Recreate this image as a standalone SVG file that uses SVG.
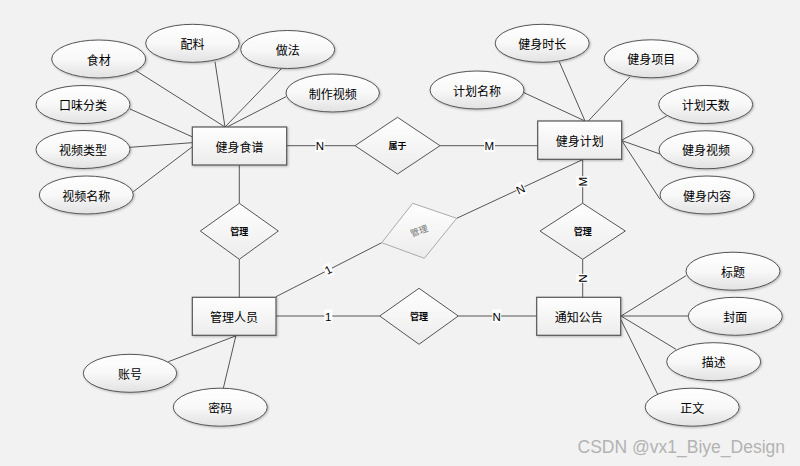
<svg xmlns="http://www.w3.org/2000/svg" width="800" height="466" viewBox="0 0 800 466">
<defs>
<linearGradient id="gE" x1="0" y1="0" x2="0" y2="1"><stop offset="0" stop-color="#ffffff"/><stop offset="0.5" stop-color="#f8f8f8"/><stop offset="1" stop-color="#e2e2e2"/></linearGradient>
<linearGradient id="gR" x1="0" y1="0" x2="0" y2="1"><stop offset="0" stop-color="#ffffff"/><stop offset="1" stop-color="#ececec"/></linearGradient>
<filter id="sh" x="-10%" y="-10%" width="130%" height="130%"><feDropShadow dx="1" dy="1" stdDeviation="0.8" flood-color="#000" flood-opacity="0.25"/></filter>
</defs>
<style>
.e{fill:url(#gE);stroke:#555;stroke-width:1;filter:url(#sh)}
.r{fill:url(#gR);stroke:#555;stroke-width:1.2;filter:url(#sh)}
.d{fill:url(#gR);stroke:#555;stroke-width:1}
.t{font-family:"Noto Sans CJK SC","Liberation Sans",sans-serif;font-size:12px;fill:#000;text-anchor:middle;dominant-baseline:central}
.ts{font-family:"Noto Sans CJK SC","Liberation Sans",sans-serif;font-size:9px;font-weight:bold;fill:#000;text-anchor:middle;dominant-baseline:central}
.c line{stroke:#555;stroke-width:1}
.lb rect{fill:#fff}
.lb text{font-family:"Liberation Sans",Arial,sans-serif;font-size:11.5px;fill:#000;text-anchor:middle;dominant-baseline:central}
</style>
<rect width="800" height="466" fill="#f2f2f2"/>
<g class="c" id="connectors">
<line x1="136" y1="70.7" x2="225" y2="127"/>
<line x1="215" y1="61.7" x2="225" y2="127"/>
<line x1="281.7" y1="68.3" x2="225" y2="127"/>
<line x1="286" y1="96.7" x2="227" y2="127"/>
<line x1="130" y1="109" x2="192" y2="136.7"/>
<line x1="130" y1="147.3" x2="192" y2="142.7"/>
<line x1="133.3" y1="191.7" x2="192" y2="147"/>
<line x1="286.7" y1="145.7" x2="355" y2="145.7"/>
<line x1="440" y1="145.7" x2="538" y2="145.7"/>
<line x1="239.3" y1="165" x2="239.3" y2="203.3"/>
<line x1="239.3" y1="259.3" x2="239.3" y2="297.3"/>
<line x1="524" y1="92.7" x2="585" y2="121"/>
<line x1="559.3" y1="61.7" x2="585" y2="121"/>
<line x1="630" y1="76.7" x2="588.3" y2="121"/>
<line x1="666.7" y1="116" x2="622" y2="140"/>
<line x1="660" y1="154" x2="622" y2="140.7"/>
<line x1="660" y1="199.3" x2="622" y2="141"/>
<line x1="583.3" y1="159.3" x2="456.7" y2="218.3"/>
<line x1="276" y1="296.7" x2="381.7" y2="242.7"/>
<line x1="582.7" y1="159.3" x2="582.7" y2="203.3"/>
<line x1="582.7" y1="259.3" x2="582.7" y2="297.3"/>
<line x1="276" y1="316" x2="379.7" y2="316"/>
<line x1="458.3" y1="316" x2="537" y2="316"/>
<line x1="168.3" y1="361.7" x2="237.3" y2="335.3"/>
<line x1="223.3" y1="388.3" x2="236" y2="335.3"/>
<line x1="686" y1="275.7" x2="621" y2="316"/>
<line x1="688.3" y1="316" x2="621" y2="316"/>
<line x1="676" y1="349.3" x2="621" y2="316"/>
<line x1="657.7" y1="394.3" x2="621" y2="320"/>
<g class="lb">
<rect x="315.5" y="139" width="9" height="13"/><text x="320" y="145.7">N</text>
<rect x="484" y="139" width="11" height="13"/><text x="489.3" y="145.7">M</text>
<g transform="translate(520.7,189.3) rotate(-25)"><rect x="-4.5" y="-6.5" width="9" height="13"/><text x="0" y="0">N</text></g>
<g transform="translate(582.7,181.7) rotate(-90)"><rect x="-5.5" y="-6.5" width="11" height="13"/><text x="0" y="0">M</text></g>
<g transform="translate(582.7,278.3) rotate(90)"><rect x="-4.5" y="-6.5" width="9" height="13"/><text x="0" y="0">N</text></g>
<g transform="translate(328.3,270) rotate(-27)"><rect x="-4" y="-6.5" width="8" height="13"/><text x="0" y="0">1</text></g>
<rect x="324.3" y="309.5" width="8" height="13"/><text x="328.3" y="316.5">1</text>
<rect x="492.2" y="309.5" width="9" height="13"/><text x="496.7" y="316.5">N</text>
</g>
</g>
<g id="n_shipu"><rect class="r" x="192.3" y="127" width="94.4" height="38"/><text class="t" x="239.5" y="146">健身食谱</text></g>
<g id="n_jihua"><rect class="r" x="537.7" y="121" width="84" height="38.3"/><text class="t" x="579.7" y="140">健身计划</text></g>
<g id="n_admin"><rect class="r" x="192.3" y="297.3" width="83.7" height="38"/><text class="t" x="234" y="316.3">管理人员</text></g>
<g id="n_notice"><rect class="r" x="536.7" y="297.3" width="84" height="38"/><text class="t" x="578.7" y="316.3">通知公告</text></g>
<g id="d_shuyu"><polygon class="d" points="355,145.7 397.5,117.3 440,145.7 397.5,174"/><text class="ts" x="397.5" y="145.7">属于</text></g>
<g id="d_guanli1"><polygon class="d" points="200.3,231 239.3,203.3 278.3,231 239.3,259.3"/><text class="ts" x="239.3" y="231">管理</text></g>
<g id="d_guanli2"><polygon class="d" points="540,231 582.7,203.3 625.3,231 582.7,259.3"/><text class="ts" x="582.7" y="231">管理</text></g>
<g id="d_guanli3"><polygon class="d" points="379.7,316 419,288.3 458.3,316 419,344.3"/><text class="ts" x="419" y="316">管理</text></g>
<g id="d_guanli4"><polygon points="381.7,242.7 412.7,203.3 456.7,218.3 424.3,258.3" fill="url(#gR)" stroke="#aaa" stroke-width="1"/><text class="ts" x="0" y="0" style="fill:#777;font-weight:normal" transform="translate(419,230.7) rotate(-20)">管理</text></g>
<g id="a_shicai"><ellipse class="e" cx="98.7" cy="59" rx="47" ry="19"/><text class="t" x="98.7" y="59">食材</text></g>
<g id="a_peiliao"><ellipse class="e" cx="192.5" cy="43.3" rx="46.8" ry="19"/><text class="t" x="192.5" y="43.3">配料</text></g>
<g id="a_zuofa"><ellipse class="e" cx="287.7" cy="49.5" rx="47" ry="19"/><text class="t" x="287.7" y="49.5">做法</text></g>
<g id="a_zhizuo"><ellipse class="e" cx="332.7" cy="93" rx="46.7" ry="19"/><text class="t" x="332.7" y="93">制作视频</text></g>
<g id="a_kouwei"><ellipse class="e" cx="83" cy="104.5" rx="47" ry="19"/><text class="t" x="83" y="104.5">口味分类</text></g>
<g id="a_leixing"><ellipse class="e" cx="83" cy="149.5" rx="47" ry="19"/><text class="t" x="83" y="149.5">视频类型</text></g>
<g id="a_mingcheng"><ellipse class="e" cx="86.3" cy="195" rx="47" ry="19"/><text class="t" x="86.3" y="195">视频名称</text></g>
<g id="a_shichang"><ellipse class="e" cx="542.2" cy="43.3" rx="47" ry="19"/><text class="t" x="542.2" y="43.3">健身时长</text></g>
<g id="a_xiangmu"><ellipse class="e" cx="651.2" cy="58.8" rx="47" ry="19"/><text class="t" x="651.2" y="58.8">健身项目</text></g>
<g id="a_jhmc"><ellipse class="e" cx="477" cy="90" rx="47" ry="19"/><text class="t" x="477" y="90">计划名称</text></g>
<g id="a_tianshu"><ellipse class="e" cx="705.7" cy="104.5" rx="47" ry="19"/><text class="t" x="705.7" y="104.5">计划天数</text></g>
<g id="a_shipin"><ellipse class="e" cx="706" cy="149.8" rx="47" ry="19"/><text class="t" x="706" y="149.8">健身视频</text></g>
<g id="a_neirong"><ellipse class="e" cx="707" cy="195" rx="47" ry="19"/><text class="t" x="707" y="195">健身内容</text></g>
<g id="a_zhanghao"><ellipse class="e" cx="130" cy="373.3" rx="46.7" ry="19"/><text class="t" x="130" y="373.3">账号</text></g>
<g id="a_mima"><ellipse class="e" cx="220.3" cy="407.2" rx="47" ry="19"/><text class="t" x="220.3" y="407.2">密码</text></g>
<g id="a_biaoti"><ellipse class="e" cx="733" cy="271.2" rx="47" ry="19"/><text class="t" x="733" y="271.2">标题</text></g>
<g id="a_fengmian"><ellipse class="e" cx="735.3" cy="316.3" rx="47" ry="19"/><text class="t" x="735.3" y="316.3">封面</text></g>
<g id="a_miaoshu"><ellipse class="e" cx="713.7" cy="361.7" rx="47" ry="19"/><text class="t" x="713.7" y="361.7">描述</text></g>
<g id="a_zhengwen"><ellipse class="e" cx="692.2" cy="407.2" rx="47" ry="19"/><text class="t" x="692.2" y="407.2">正文</text></g>
<text x="785" y="453" text-anchor="end" font-family="Liberation Sans, Arial, sans-serif" font-size="17.5" fill="#b3b3b3">CSDN @vx1_Biye_Design</text>
</svg>
